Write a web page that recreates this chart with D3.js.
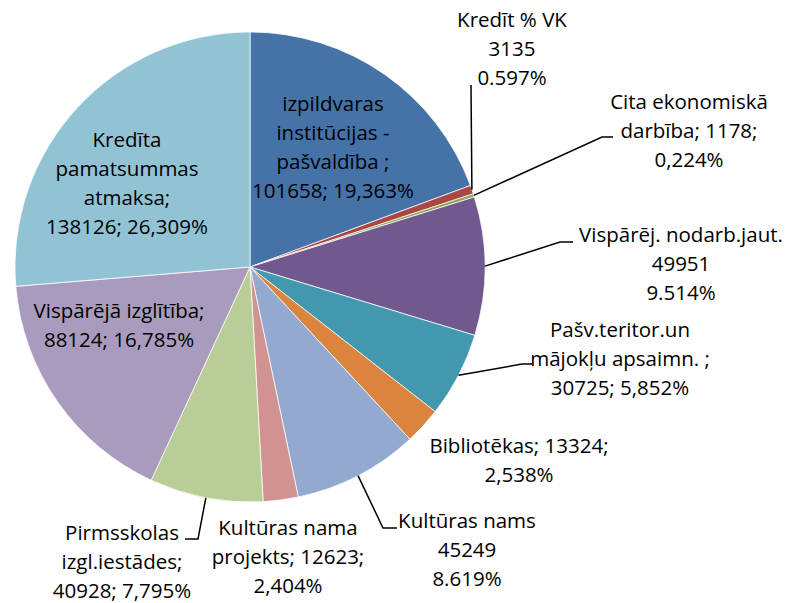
<!DOCTYPE html>
<html>
<head>
<meta charset="utf-8">
<script src="https://cdn.jsdelivr.net/npm/d3@7"></script>
<style>
  html, body { margin: 0; padding: 0; background: #fff; }
  svg { display: block; }
  text { font-family: "Open Sans", "Noto Sans", sans-serif; fill: #000; }
</style>
</head>
<body>
<svg id="chart" width="789" height="603"></svg>
<script>
// ---- data ----
const categories = [
  "izpildvaras\ninstitūcijas -\npašvaldība",
  "Kredīt % VK",
  "Cita ekonomiskā\ndarbība",
  "Vispārēj. nodarb.jaut.",
  "Pašv.teritor.un\nmājokļu apsaimn.",
  "Bibliotēkas",
  "Kultūras nams",
  "Kultūras nama\nprojekts",
  "Pirmsskolas\nizgl.iestādes",
  "Vispārējā izglītība",
  "Kredīta\npamatsummas\natmaksa"
];
const values = [101658, 3135, 1178, 49951, 30725, 13324, 45249, 12623, 40928, 88124, 138126];
const percentLabels = ["19,363%", "0.597%", "0,224%", "9.514%", "5,852%", "2,538%", "8.619%", "2,404%", "7,795%", "16,785%", "26,309%"];
const labelTemplates = [
  "{n} ;\n{v}; {p}",
  "{n}\n{v}\n{p}",
  "{n}; {v};\n{p}",
  "{n}\n{v}\n{p}",
  "{n} ;\n{v}; {p}",
  "{n}; {v};\n{p}",
  "{n}\n{v}\n{p}",
  "{n}; {v};\n{p}",
  "{n};\n{v}; {p}",
  "{n};\n{v}; {p}",
  "{n};\n{v}; {p}"
];

// ---- styles / layout ----
const colors = ["#4572A7", "#AA4643", "#89A54E", "#71588F", "#4198AF", "#DB843D",
                "#93A9CF", "#D19392", "#B9CD96", "#A99BBD", "#92C3D5"];
const cx = 250, cy = 267, R = 235;
const fontSize = 20.5, lineH = 29;
// label anchor: center x, first baseline y, leader path points after the arc point
const labelLayout = [
  { x: 333, y: 111, leader: null },
  { x: 512, y: 27,  leader: [[471, 85]] },
  { x: 689, y: 109, leader: [[602, 137], [613, 137]] },
  { x: 681, y: 242, leader: [[560, 242], [573, 242]] },
  { x: 620, y: 337, leader: [[522, 364], [532, 364]] },
  { x: 519, y: 453, leader: null },
  { x: 467, y: 528, leader: [[383, 528], [397, 528]] },
  { x: 288, y: 535, leader: null },
  { x: 122, y: 539.5, leader: [[198, 539], [185, 539]] },
  { x: 119, y: 318, leader: null },
  { x: 127, y: 147, leader: null }
];

const svg = d3.select("#chart");
const data = categories.map((c, i) => ({ name: c, value: values[i], pct: percentLabels[i], tpl: labelTemplates[i], i }));

const pie = d3.pie().value(d => d.value).sort(null);
const arcs = pie(data);
const arc = d3.arc().innerRadius(0).outerRadius(R);
const edge = d3.arc().innerRadius(R).outerRadius(R);

const g = svg.append("g").attr("transform", `translate(${cx},${cy})`);
g.selectAll("path.slice").data(arcs).enter().append("path")
  .attr("class", "slice")
  .attr("d", arc)
  .attr("fill", d => colors[d.data.i])
  .attr("stroke", "#fff")
  .attr("stroke-width", 0.75);

// leaders
arcs.forEach(a => {
  const L = labelLayout[a.data.i];
  if (!L.leader) return;
  const p0 = edge.centroid(a);
  const pts = [[p0[0] + cx, p0[1] + cy]].concat(L.leader);
  svg.append("path")
    .attr("d", d3.line()(pts))
    .attr("fill", "none")
    .attr("stroke", "#000")
    .attr("stroke-width", 1.5);
});

// labels
arcs.forEach(a => {
  const d = a.data, L = labelLayout[d.i];
  const txt = d.tpl.replace("{n}", d.name).replace("{v}", d.value).replace("{p}", d.pct);
  const lines = txt.split("\n");
  const t = svg.append("text")
    .attr("x", L.x).attr("y", L.y)
    .attr("text-anchor", "middle")
    .style("font-size", fontSize + "px");
  lines.forEach((ln, k) => {
    t.append("tspan").attr("x", L.x).attr("y", L.y + k * lineH).text(ln);
  });
});
</script>
</body>
</html>
